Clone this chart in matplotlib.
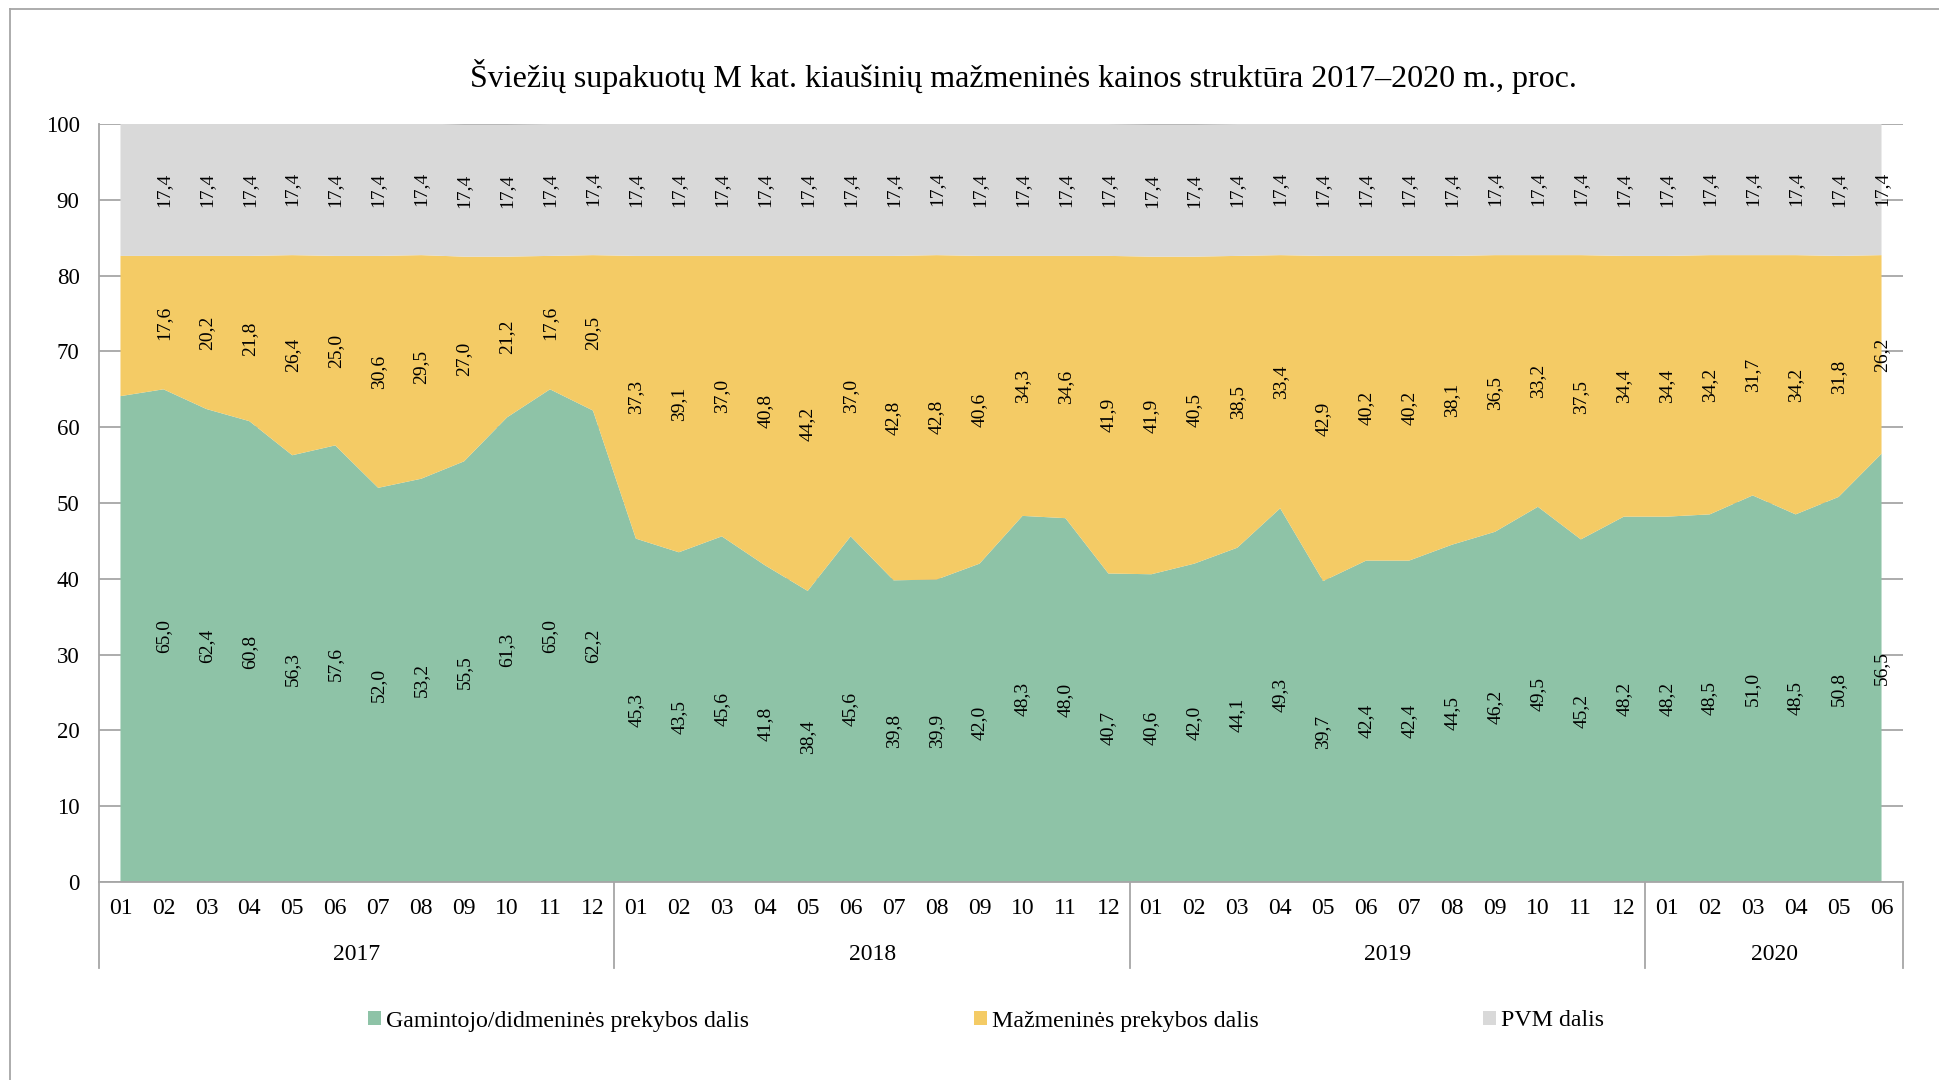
import numpy as np
import matplotlib
matplotlib.use("Agg")
import matplotlib.pyplot as plt
from matplotlib.patches import Patch
from matplotlib.lines import Line2D
import matplotlib.transforms as mtransforms

plt.rcParams["font.family"] = ["Liberation Serif", "DejaVu Serif"]

# --- data -------------------------------------------------------------
years = ["2017", "2018", "2019", "2020"]
months_per_year = [12, 12, 12, 6]

# Gamintojo/didmenines prekybos dalis
gamintojo = [64.1, 65.0, 62.4, 60.8, 56.3, 57.6, 52.0, 53.2, 55.5, 61.3, 65.0, 62.2,
             45.3, 43.5, 45.6, 41.8, 38.4, 45.6, 39.8, 39.9, 42.0, 48.3, 48.0, 40.7,
             40.6, 42.0, 44.1, 49.3, 39.7, 42.4, 42.4, 44.5, 46.2, 49.5, 45.2, 48.2,
             48.2, 48.5, 51.0, 48.5, 50.8, 56.5]
# Mazmenines prekybos dalis
mazmenines = [18.5, 17.6, 20.2, 21.8, 26.4, 25.0, 30.6, 29.5, 27.0, 21.2, 17.6, 20.5,
              37.3, 39.1, 37.0, 40.8, 44.2, 37.0, 42.8, 42.8, 40.6, 34.3, 34.6, 41.9,
              41.9, 40.5, 38.5, 33.4, 42.9, 40.2, 40.2, 38.1, 36.5, 33.2, 37.5, 34.4,
              34.4, 34.2, 31.7, 34.2, 31.8, 26.2]
# PVM dalis
pvm = [17.4] * 42

series_names = ["Gamintojo/didmeninės prekybos dalis", "Mažmeninės prekybos dalis", "PVM dalis"]
colors = ["#8EC3A7", "#F4CB65", "#D9D9D9"]
title = "Šviežių supakuotų M kat. kiaušinių mažmeninės kainos struktūra 2017–2020 m., proc."

month_labels = []
for n in months_per_year:
    month_labels += ["%02d" % (m + 1) for m in range(n)]

# --- figure -----------------------------------------------------------
W, H = 1939, 1080
fig = plt.figure(figsize=(W / 100, H / 100), dpi=100)
ax = fig.add_axes([99 / W, 1 - 882 / H, (1903 - 99) / W, (882 - 124) / H])

x = np.arange(len(gamintojo))
ax.stackplot(x, gamintojo, mazmenines, pvm, colors=colors, lw=0, zorder=2)

ax.set_xlim(-0.5, len(x) - 0.5)
ax.set_ylim(0, 100)
ax.set_yticks(range(0, 101, 10))
ax.yaxis.grid(True, color="#A6A6A6", lw=1.3)
ax.set_axisbelow(True)

for s in ["top", "right"]:
    ax.spines[s].set_visible(False)
for s in ["left", "bottom"]:
    ax.spines[s].set_color("#A6A6A6")
    ax.spines[s].set_linewidth(1.3)
ax.spines["left"].set_zorder(3)

ax.tick_params(axis="y", length=0, pad=14, labelsize=16.5)
ax.set_xticks(x)
ax.set_xticklabels(month_labels)
ax.tick_params(axis="x", length=0, pad=11.5, labelsize=17)

# data labels (first month has none in the original)
g = np.array(gamintojo)
m = np.array(mazmenines)
p = np.array(pvm)
for i in x[1:]:
    for val, mid in [(g[i], g[i] / 2), (m[i], g[i] + m[i] / 2), (p[i], g[i] + m[i] + p[i] / 2)]:
        ax.text(i, mid, ("%.1f" % val).replace(".", ","), rotation=90,
                ha="center", va="center", fontsize=14, zorder=4)

# year groups under the month labels
trans = mtransforms.blended_transform_factory(ax.transData, ax.transAxes)
axh = 882 - 124
y_sep = -(968 - 882) / axh
y_year = -(954 - 882) / axh
start = 0
bounds = [-0.5]
for yr, n in zip(years, months_per_year):
    ax.text(start + (n - 1) / 2, y_year, yr, transform=trans,
            ha="center", va="center", fontsize=17)
    start += n
    bounds.append(start - 0.5)
for b in bounds:
    ax.plot([b, b], [0, y_sep], transform=trans, color="#A6A6A6", lw=1.3, clip_on=False)

# title
fig.text(1023 / W, 1 - 77 / H, title, ha="center", va="center", fontsize=23)

# legend
handles = [Patch(facecolor=c, edgecolor="none", label=n) for c, n in zip(colors, series_names)]
fig.legend(handles=handles, loc="center", bbox_to_anchor=(986 / W, 1 - 1021 / H), ncol=3,
           frameon=False, fontsize=17.2, handlelength=0.55, handleheight=0.55,
           handletextpad=0.2, columnspacing=9.4)

# outer frame
fig.add_artist(Line2D([10 / W, 10 / W], [0, 1 - 9 / H], transform=fig.transFigure, color="#A6A6A6", lw=1.3))
fig.add_artist(Line2D([10 / W, 1], [1 - 9 / H, 1 - 9 / H], transform=fig.transFigure, color="#A6A6A6", lw=1.3))

fig.savefig("out.png", dpi=100)
